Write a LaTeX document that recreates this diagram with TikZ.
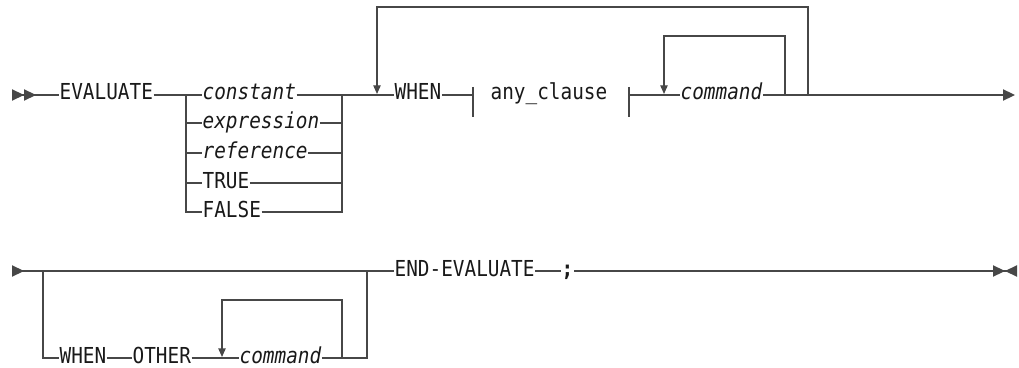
\documentclass[tikz,border=0pt]{standalone}
\usepackage{fontspec}
\setmonofont{DejaVu Sans Mono}[FakeStretch=0.88,ItalicFont={DejaVu Sans Mono Oblique},BoldFont={DejaVu Sans Mono Bold}]
\usetikzlibrary{arrows.meta}
\tikzset{
  rail/.style={draw=black!72, line width=1pt},
  kw/.style={inner sep=0pt, outer xsep=0.5pt, anchor=west, text height=7.5pt,
    text depth=0pt, text=black!90, font=\fontsize{16.5}{18}\ttfamily},
  var/.style={kw, font=\fontsize{16.5}{18}\ttfamily\itshape},
  semi/.style={kw, font=\fontsize{16.5}{18}\ttfamily\bfseries},
  tri/.tip={Triangle[length=9pt, width=8.4pt]},
  rtri/.tip={Triangle[length=9pt, width=8.4pt, reversed]},
  tip/.style={-{Triangle[length=6.5pt, width=5.5pt]}},
}

\begin{document}
\begin{tikzpicture}[x=0.75pt, y=-0.75pt]
  \useasboundingbox (0,0) rectangle (1019,367);
  % row 1 (line at y=95), pixel units
  \coordinate (s1) at (12,95);
  \node[kw] (evaluate) at (59,95) {EVALUATE};
  \foreach \lab/\y/\nm in {constant/95/cst, expression/123/expr, reference/153/ref}
    \node[var] (\nm) at (202,\y) {\lab};
  \node[kw] (true) at (202,183) {TRUE};
  \node[kw] (false) at (202,212) {FALSE};
  \coordinate (chL) at (186,95);
  \coordinate (chR) at (342,95);
  \node[kw] (when) at (394,95) {WHEN};
  \coordinate (barA) at (473,95);
  \node[kw] (clause) at (490,95) {any\_clause};
  \coordinate (barB) at (629,95);
  \node[var] (cmd) at (680,95) {command};
  \coordinate (e1) at (1015,95);
  \draw[rail, {rtri[]rtri[]}-] (s1) -- (evaluate);
  \draw[rail] (evaluate) -- (cst) -- (chR) -- (when);
  \foreach \nm in {expr,ref,true,false}
    \draw[rail] (chL) |- (\nm) (\nm) -| (chR);
  \draw[rail] (when) -- (barA) ++(0,-8) -- ++(0,30);
  \draw[rail] (barB) ++(0,-8) -- ++(0,30);
  \draw[rail] (barB) -- (cmd);
  \draw[rail, -{tri[]}] (cmd) -- (e1);
  % repeat loops
  \coordinate (rep1) at (785,95);
  \coordinate (back1) at (664,94);
  \draw[rail, tip] (rep1) |- (664,36) -- (back1);
  \coordinate (rep0) at (808,95);
  \coordinate (back0) at (377,94);
  \draw[rail, tip] (rep0) |- (377,7) -- (back0);

  % row 2 (line at y=271)
  \coordinate (s2) at (12,271);
  \node[kw] (endeval) at (394,271) {END-EVALUATE};
  \node[semi] (semicol) at (561,271) {;};
  \coordinate (e2) at (1017,271);
  \coordinate (optL) at (43,271);
  \coordinate (optR) at (367,271);
  \node[kw] (when2) at (59,358) {WHEN};
  \node[kw] (other) at (132,358) {OTHER};
  \node[var] (cmd2) at (239,358) {command};
  \draw[rail, {rtri[]}-] (s2) -- (endeval);
  \draw[rail] (endeval) -- (semicol);
  \draw[rail, -{tri[]rtri[]}] (semicol) -- (e2);
  \draw[rail] (optL) |- (when2);
  \draw[rail] (when2) -- (other) -- (cmd2) -| (optR);
  \coordinate (rep2) at (342,358);
  \coordinate (back2) at (222,357);
  \draw[rail, tip] (rep2) |- (222,300) -- (back2);
\end{tikzpicture}
\end{document}
